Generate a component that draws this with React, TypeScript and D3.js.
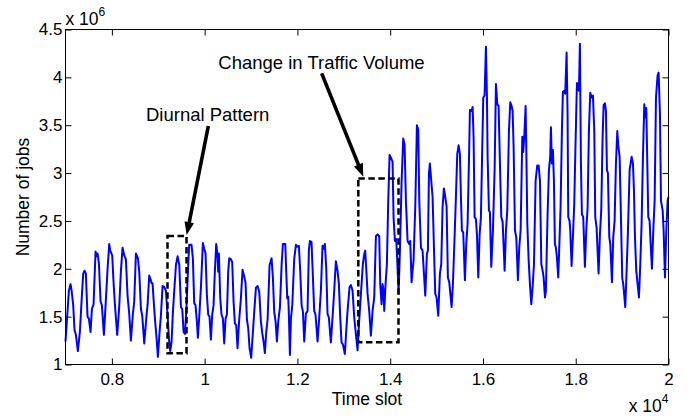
import { useEffect, useRef } from 'react';
import * as d3 from 'd3';

const xTicks = [8000, 10000, 12000, 14000, 16000, 18000, 20000];
const xTickLabels = ['0.8', '1', '1.2', '1.4', '1.6', '1.8', '2'];
const yTicks = [1, 1.5, 2, 2.5, 3, 3.5, 4, 4.5];
const yTickLabels = ['1', '1.5', '2', '2.5', '3', '3.5', '4', '4.5'];

// [time slot, number of jobs in units of 10^6]
const trafficSeries: [number, number][] = [
  [7000, 1.24], [7073, 1.77], [7109, 1.84], [7130, 1.78], [7166, 1.62], [7195, 1.36], [7224, 1.31], [7267, 1.14],
  [7310, 1.34], [7346, 1.66], [7382, 1.95], [7411, 1.98], [7439, 1.95], [7475, 1.5], [7504, 1.48], [7540, 1.34],
  [7569, 1.58], [7605, 1.63], [7648, 2.18], [7669, 2.13], [7691, 2.16], [7720, 2.06], [7756, 1.66], [7784, 1.62],
  [7828, 1.31], [7864, 1.62], [7907, 2.0], [7943, 2.26], [7964, 2.19], [8007, 2.14], [8036, 1.86], [8065, 1.63],
  [8115, 1.31], [8158, 1.6], [8194, 1.97], [8230, 2.22], [8266, 2.14], [8302, 2.1], [8338, 1.72], [8374, 1.53],
  [8410, 1.25], [8453, 1.53], [8482, 1.66], [8518, 2.16], [8561, 2.11], [8590, 1.97], [8626, 1.58], [8654, 1.51],
  [8698, 1.22], [8741, 1.48], [8770, 1.63], [8805, 1.93], [8827, 1.9], [8856, 1.85], [8877, 1.85], [8899, 1.68],
  [8928, 1.48], [8964, 1.27], [8992, 1.08], [9028, 1.34], [9057, 1.51], [9093, 1.82], [9129, 1.81], [9165, 1.77],
  [9201, 1.51], [9230, 1.27], [9258, 1.14], [9287, 1.24], [9316, 1.55], [9345, 1.77], [9381, 2.04], [9417, 2.13],
  [9453, 2.04], [9489, 1.6], [9517, 1.58], [9546, 1.34], [9575, 1.32], [9604, 1.55], [9645, 2.04], [9667, 2.25],
  [9717, 2.25], [9746, 2.11], [9775, 1.64], [9803, 1.62], [9832, 1.45], [9854, 1.28], [9890, 1.55], [9919, 1.8],
  [9962, 2.27], [9990, 2.21], [10019, 2.16], [10048, 1.73], [10077, 1.52], [10105, 1.5], [10134, 1.26], [10163, 1.52],
  [10192, 1.62], [10220, 1.97], [10249, 2.26], [10278, 2.14], [10292, 1.97], [10307, 2.16], [10336, 1.69], [10364, 1.52],
  [10393, 1.48], [10422, 1.22], [10451, 1.48], [10479, 1.52], [10508, 1.97], [10530, 2.11], [10566, 2.1], [10594, 2.07],
  [10623, 1.66], [10652, 1.43], [10681, 1.41], [10709, 1.17], [10745, 1.47], [10781, 1.69], [10817, 1.99], [10853, 1.92],
  [10882, 1.85], [10911, 1.47], [10939, 1.38], [10968, 1.17], [11004, 1.07], [11040, 1.34], [11069, 1.55], [11105, 1.8],
  [11141, 1.82], [11177, 1.76], [11213, 1.45], [11241, 1.33], [11270, 1.24], [11299, 1.12], [11328, 1.34], [11357, 1.47],
  [11400, 2.04], [11443, 2.11], [11472, 1.9], [11500, 1.55], [11529, 1.45], [11558, 1.24], [11587, 1.45], [11623, 1.6],
  [11659, 2.04], [11687, 2.26], [11738, 2.26], [11759, 1.97], [11781, 1.69], [11802, 1.71], [11817, 1.5], [11838, 1.1],
  [11860, 1.48], [11889, 1.62], [11932, 2.11], [11968, 2.25], [11989, 2.23], [12032, 2.24], [12061, 1.97], [12090, 1.62],
  [12119, 1.55], [12147, 1.24], [12182, 1.53], [12218, 1.56], [12247, 2.19], [12268, 2.29], [12304, 2.28], [12326, 2.01],
  [12362, 1.56], [12390, 1.52], [12434, 1.24], [12470, 1.49], [12506, 1.77], [12541, 2.24], [12563, 2.21], [12592, 2.26],
  [12621, 2.01], [12649, 1.53], [12678, 1.49], [12721, 1.23], [12757, 1.49], [12793, 1.77], [12829, 2.08], [12865, 1.98],
  [12894, 1.84], [12923, 1.49], [12951, 1.23], [12980, 1.21], [13023, 1.11], [13052, 1.35], [13081, 1.56], [13124, 1.81],
  [13153, 1.83], [13189, 1.77], [13225, 1.49], [13260, 1.32], [13296, 1.15], [13332, 1.46], [13383, 1.84], [13411, 2.05],
  [13440, 2.15], [13462, 2.19], [13483, 2.01], [13512, 1.74], [13548, 1.56], [13584, 1.3], [13620, 1.56], [13656, 1.7],
  [13692, 2.34], [13728, 2.36], [13764, 2.34], [13785, 1.84], [13814, 1.63], [13836, 1.84], [13857, 1.77], [13872, 1.56],
  [13900, 1.84], [13929, 2.05], [13958, 2.71], [13987, 3.19], [14015, 3.16], [14051, 3.12], [14073, 2.53], [14102, 2.29],
  [14130, 2.31], [14159, 2.01], [14181, 1.74], [14210, 2.19], [14245, 2.9], [14281, 3.36], [14310, 3.3], [14339, 2.71],
  [14375, 2.29], [14411, 2.26], [14432, 2.29], [14461, 1.86], [14504, 2.09], [14540, 2.64], [14576, 3.5], [14605, 3.45],
  [14627, 2.71], [14663, 2.22], [14698, 2.19], [14756, 1.72], [14792, 2.16], [14813, 2.19], [14835, 2.99], [14856, 3.1],
  [14885, 2.92], [14914, 2.75], [14943, 2.23], [14971, 1.74], [15000, 1.7], [15036, 1.51], [15072, 1.95], [15101, 2.05],
  [15129, 2.64], [15158, 2.84], [15187, 2.75], [15216, 2.65], [15244, 1.91], [15273, 1.86], [15324, 1.6], [15352, 1.84],
  [15381, 2.23], [15417, 2.75], [15446, 3.2], [15475, 3.29], [15503, 3.2], [15525, 2.75], [15546, 2.4], [15575, 2.38],
  [15611, 1.88], [15640, 2.26], [15669, 2.47], [15697, 3.1], [15719, 3.66], [15755, 3.65], [15777, 3.69], [15798, 3.37],
  [15820, 2.54], [15848, 2.52], [15870, 2.36], [15899, 1.91], [15928, 2.36], [15956, 2.54], [15985, 3.27], [16007, 3.79],
  [16035, 3.81], [16064, 4.32], [16086, 3.79], [16100, 3.17], [16129, 2.61], [16150, 2.59], [16179, 2.02], [16215, 2.4],
  [16251, 3.03], [16280, 3.93], [16309, 3.72], [16337, 3.7], [16366, 3.1], [16395, 2.54], [16424, 2.49], [16467, 1.98],
  [16496, 2.4], [16524, 2.61], [16560, 3.44], [16589, 3.74], [16618, 3.7], [16639, 3.65], [16661, 3.27], [16690, 2.4],
  [16718, 2.33], [16754, 1.88], [16783, 2.23], [16812, 2.4], [16848, 3.38], [16869, 3.22], [16891, 3.39], [16920, 3.7],
  [16934, 3.27], [16956, 2.47], [16985, 2.09], [17013, 1.84], [17042, 1.63], [17071, 1.81], [17100, 2.05], [17135, 2.92],
  [17171, 3.08], [17200, 3.08], [17229, 2.92], [17258, 2.05], [17286, 1.98], [17308, 1.91], [17337, 1.7], [17357, 1.77],
  [17393, 2.57], [17422, 3.03], [17450, 3.17], [17465, 3.48], [17486, 3.1], [17508, 3.24], [17530, 2.92], [17551, 2.26],
  [17573, 2.22], [17594, 2.12], [17623, 1.91], [17645, 2.22], [17673, 2.64], [17702, 3.44], [17724, 3.85], [17752, 3.86],
  [17774, 3.83], [17803, 4.26], [17824, 3.62], [17839, 2.54], [17867, 2.5], [17882, 2.4], [17911, 2.03], [17939, 2.33],
  [17968, 2.68], [17997, 3.34], [18026, 3.94], [18047, 3.91], [18069, 3.86], [18090, 4.35], [18112, 3.1], [18133, 2.57],
  [18162, 2.54], [18198, 2.02], [18227, 2.4], [18256, 2.64], [18284, 3.44], [18313, 3.84], [18342, 3.79], [18371, 3.81],
  [18400, 3.44], [18421, 2.54], [18450, 2.43], [18493, 1.95], [18522, 2.36], [18550, 2.61], [18579, 3.37], [18601, 3.71],
  [18630, 3.73], [18651, 3.65], [18673, 3.03], [18694, 3.0], [18723, 2.33], [18745, 2.26], [18781, 1.86], [18809, 2.33],
  [18838, 2.5], [18867, 3.1], [18896, 3.44], [18917, 3.29], [18946, 3.17], [18975, 2.54], [19003, 1.9], [19025, 1.84],
  [19068, 1.6], [19097, 1.98], [19126, 2.4], [19162, 3.03], [19205, 3.17], [19234, 3.1], [19255, 2.82], [19277, 2.33],
  [19305, 1.98], [19334, 1.84], [19363, 1.7], [19392, 2.05], [19420, 2.47], [19449, 3.17], [19478, 3.72], [19499, 3.58],
  [19521, 3.68], [19543, 3.1], [19564, 2.54], [19593, 2.5], [19615, 2.26], [19643, 2.0], [19672, 2.4], [19701, 2.71],
  [19730, 3.79], [19765, 4.02], [19787, 4.05], [19816, 3.61], [19838, 2.71], [19874, 2.61], [19895, 2.4], [19924, 1.91],
  [19953, 2.4], [19981, 2.71], [20000, 2.75],
];

// dashed highlight boxes, in data units
const highlightBoxes = [
  { t0: 9199, t1: 9609, v0: 1.117, v1: 2.343 },
  { t0: 13313, t1: 14179, v0: 1.232, v1: 2.943 },
];

// annotation labels and arrows, in data units
const annotations = [
  { label: 'Diurnal Pattern', at: [8735, 3.544], from: [10079, 3.492], to: [9613, 2.353] },
  { label: 'Change in Traffic Volume', at: [10294, 4.084], from: [12523, 4.042], to: [13420, 2.962] },
];

export default function App() {
  const chartRef = useRef<SVGSVGElement>(null);

  useEffect(() => {
    if (!chartRef.current) return;
    const svg = d3.select(chartRef.current);
    svg.selectAll('*').remove();

    const font = '"Liberation Sans", Arial, Helvetica, sans-serif';
    const left = 65.5, right = 668.5, top = 29.5, bottom = 364.5;

    const x = d3.scaleLinear().domain([7000, 20000]).range([left, right]);
    const y = d3.scaleLinear().domain([1, 4.5]).range([bottom, top]);

    svg.append('rect')
      .attr('width', 691).attr('height', 418).attr('fill', '#fff');

    // series
    const line = d3.line<[number, number]>()
      .x(d => x(d[0]))
      .y(d => y(d[1]));

    svg.append('path')
      .datum(trafficSeries)
      .attr('d', line)
      .attr('fill', 'none')
      .attr('stroke', '#0000ff')
      .attr('stroke-width', 2)
      .attr('stroke-linejoin', 'round');

    // axes (MATLAB style: ticks inside, box on)
    const styleAxis = (g: any) => {
      g.select('.domain').remove();
      g.attr('font-size', 17).attr('font-family', font);
      g.selectAll('line').attr('stroke', '#000');
      g.selectAll('text').attr('fill', '#000');
    };

    svg.append('g')
      .attr('transform', `translate(0,${bottom})`)
      .call(d3.axisBottom(x).tickValues(xTicks).tickFormat((_, i) => xTickLabels[i])
        .tickSizeInner(-6).tickSizeOuter(0).tickPadding(8))
      .call(styleAxis);

    svg.append('g')
      .attr('transform', `translate(0,${top})`)
      .call(d3.axisTop(x).tickValues(xTicks).tickFormat(() => '')
        .tickSizeInner(-6).tickSizeOuter(0))
      .call(styleAxis);

    svg.append('g')
      .attr('transform', `translate(${left},0)`)
      .call(d3.axisLeft(y).tickValues(yTicks).tickFormat((_, i) => yTickLabels[i])
        .tickSizeInner(-6).tickSizeOuter(0).tickPadding(3))
      .call(styleAxis);

    svg.append('g')
      .attr('transform', `translate(${right},0)`)
      .call(d3.axisRight(y).tickValues(yTicks).tickFormat(() => '')
        .tickSizeInner(-6).tickSizeOuter(0))
      .call(styleAxis);

    svg.append('rect')
      .attr('x', left).attr('y', top)
      .attr('width', right - left).attr('height', bottom - top)
      .attr('fill', 'none').attr('stroke', '#000').attr('stroke-width', 1);

    // exponent labels
    const topExp = svg.append('text')
      .attr('x', left).attr('y', 25)
      .attr('font-family', font).attr('font-size', 17.5);
    topExp.append('tspan').text('x 10');
    topExp.append('tspan').attr('font-size', 12).attr('dy', -9).text('6');

    const botExp = svg.append('text')
      .attr('x', right).attr('y', 411.5)
      .attr('text-anchor', 'end')
      .attr('font-family', font).attr('font-size', 17.5);
    botExp.append('tspan').text('x 10');
    botExp.append('tspan').attr('font-size', 12).attr('dy', -9).text('4');

    // axis titles
    svg.append('text')
      .attr('x', (left + right) / 2).attr('y', 404.5)
      .attr('text-anchor', 'middle')
      .attr('font-family', font).attr('font-size', 17.5)
      .text('Time slot');

    svg.append('text')
      .attr('transform', `translate(29,${(top + bottom) / 2}) rotate(-90)`)
      .attr('text-anchor', 'middle')
      .attr('font-family', font).attr('font-size', 17.5)
      .text('Number of jobs');

    // dashed boxes
    svg.selectAll('.hbox')
      .data(highlightBoxes)
      .join('rect')
      .attr('class', 'hbox')
      .attr('x', d => x(d.t0))
      .attr('y', d => y(d.v1))
      .attr('width', d => x(d.t1) - x(d.t0))
      .attr('height', d => y(d.v0) - y(d.v1))
      .attr('fill', 'none')
      .attr('stroke', '#000')
      .attr('stroke-width', 2.5)
      .attr('stroke-dasharray', '6.5,3.5');

    // annotations with arrows
    annotations.forEach(a => {
      svg.append('text')
        .attr('x', x(a.at[0])).attr('y', y(a.at[1]))
        .attr('font-family', font).attr('font-size', 18.5)
        .text(a.label);

      const x1 = x(a.from[0]), y1 = y(a.from[1]);
      const x2 = x(a.to[0]), y2 = y(a.to[1]);
      const len = Math.hypot(x2 - x1, y2 - y1);
      const ux = (x2 - x1) / len, uy = (y2 - y1) / len;
      const headLen = 13, headW = 4.8;
      const bx = x2 - ux * headLen, by = y2 - uy * headLen;

      svg.append('line')
        .attr('x1', x1).attr('y1', y1)
        .attr('x2', bx + ux * 1).attr('y2', by + uy * 1)
        .attr('stroke', '#000').attr('stroke-width', 3.6);

      svg.append('path')
        .attr('d', `M${x2},${y2}L${bx - uy * headW},${by + ux * headW}L${bx + uy * headW},${by - ux * headW}Z`)
        .attr('fill', '#000');
    });
  }, []);

  return (
    <svg
      ref={chartRef}
      width={691}
      height={418}
      style={{ position: 'absolute', left: 0, top: 0, display: 'block' }}
    />
  );
}
